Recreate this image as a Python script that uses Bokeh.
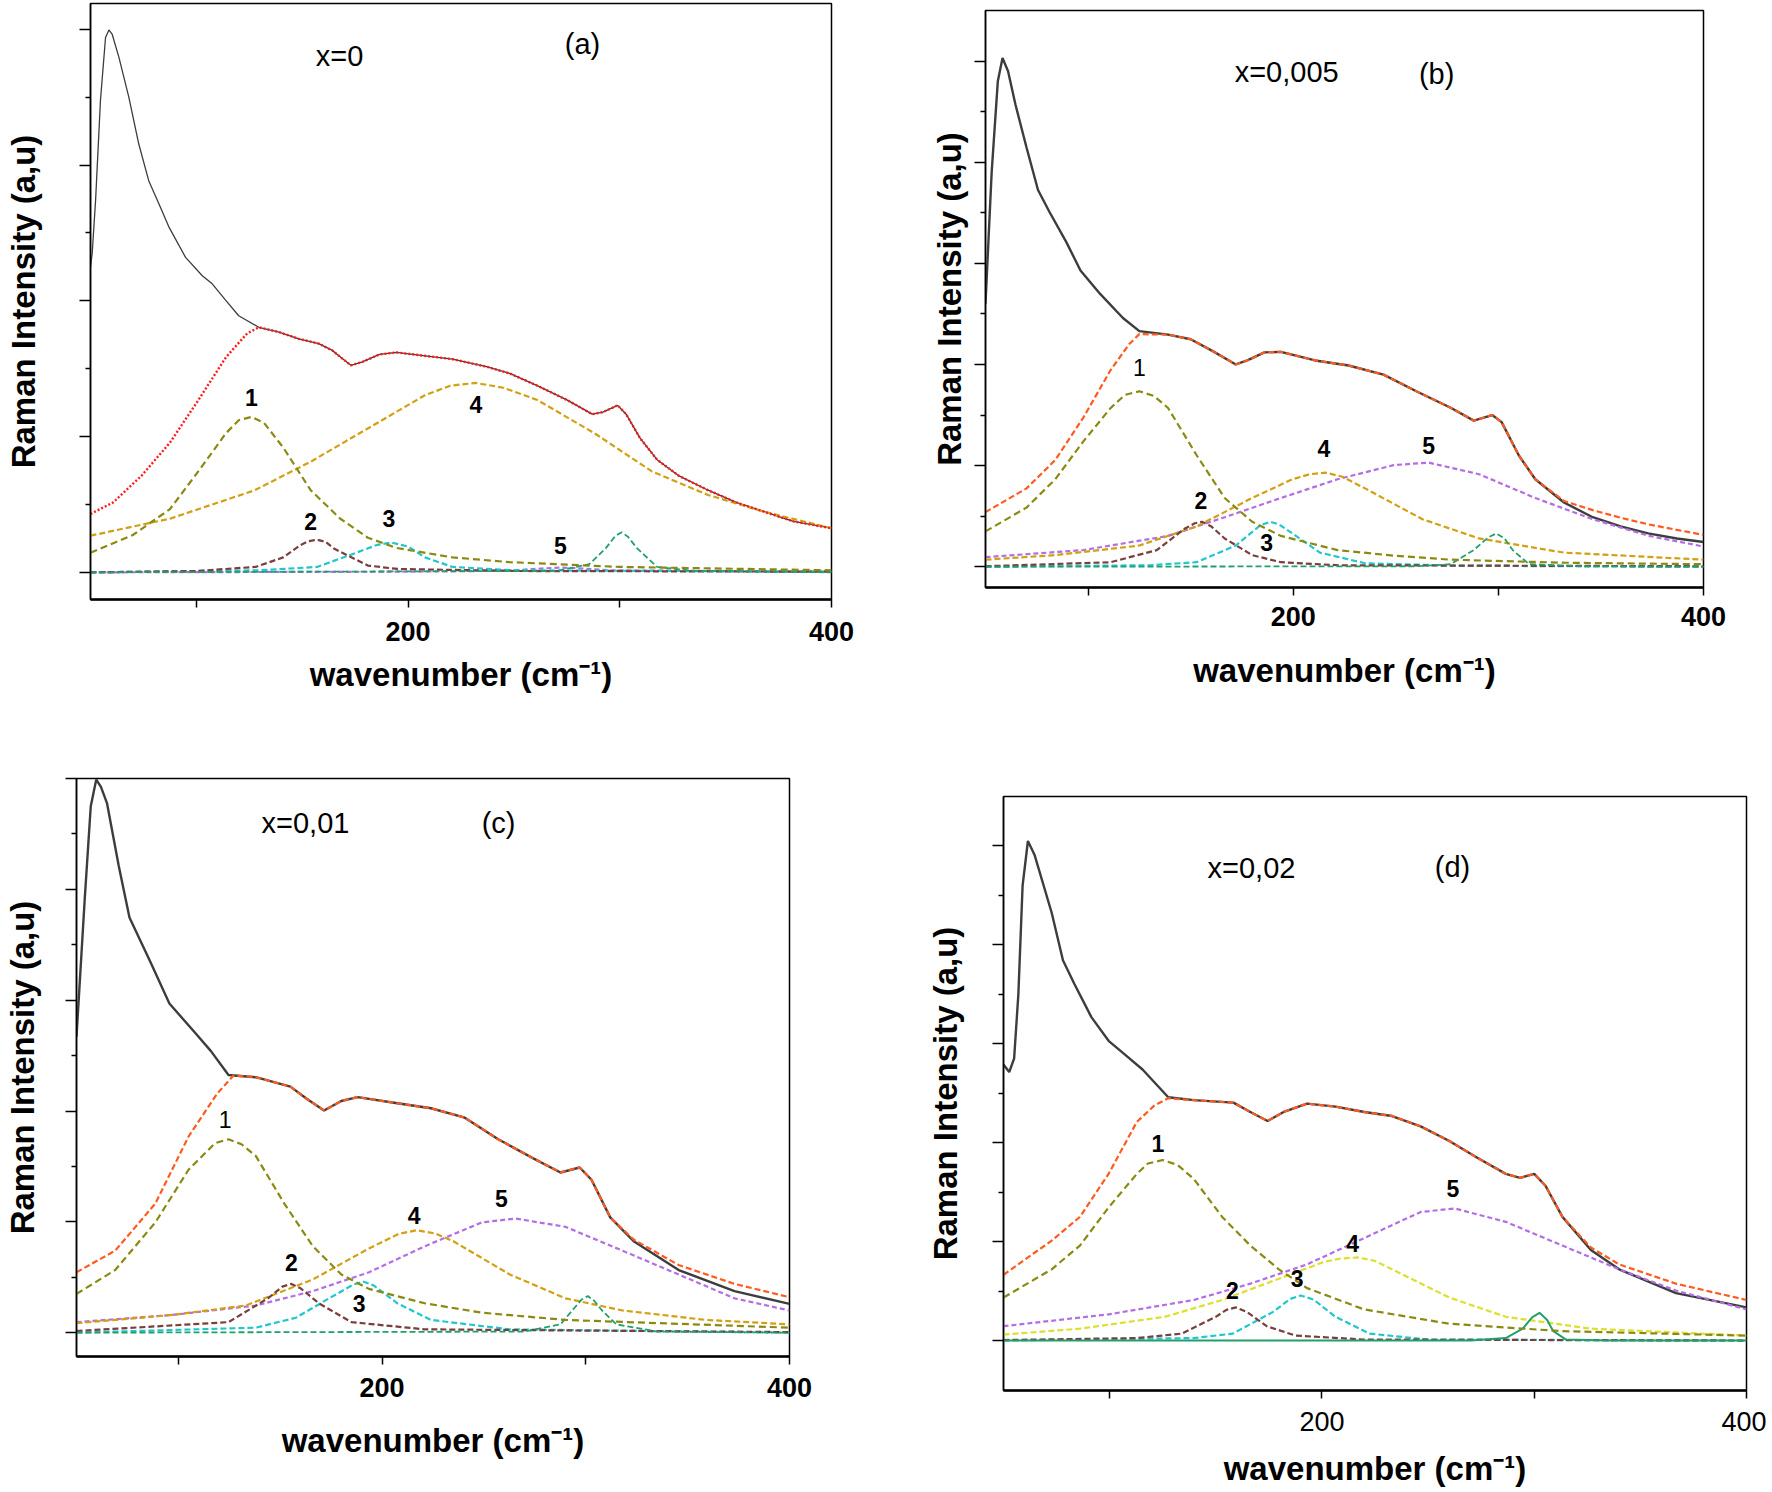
from bokeh.plotting import figure
from bokeh.layouts import row, column
from bokeh.models import FixedTicker, Range1d, Label
from bokeh.embed import file_html
from bokeh.resources import INLINE

FONT = "Liberation Sans"

# ---------------- panel (a) x=0 ----------------
a_exp_x = [50, 50.8, 52.4, 54.7, 57.1, 58.7, 60.2, 63.4, 68.1, 72.8, 77.5, 82.3, 87, 94.9, 102.8, 107.5, 113.8, 120, 129.5, 139, 148.4, 157.8, 164.2, 168.9, 173, 178.4, 186.5, 194.5, 208, 221, 237, 248, 261, 275, 287, 292, 299, 303, 309.5, 317.6, 328, 341.7, 355, 368.5, 382, 400]
a_exp_y = [4.5, 4.70, 5.48, 6.95, 7.88, 7.99, 7.93, 7.59, 7.0, 6.31, 5.77, 5.43, 5.09, 4.64, 4.37, 4.25, 4.01, 3.78, 3.61, 3.54, 3.44, 3.37, 3.27, 3.15, 3.05, 3.10, 3.21, 3.24, 3.19, 3.14, 3.03, 2.93, 2.75, 2.54, 2.33, 2.36, 2.46, 2.33, 1.98, 1.66, 1.42, 1.21, 1.03, 0.89, 0.75, 0.65]
a_fit_x = [50, 60.7, 74, 87.5, 101, 114, 124, 129.5, 139, 148.4, 157.8, 164.2, 168.9, 173, 178.4, 186.5, 194.5, 208, 221, 237, 248, 261, 275, 287, 292, 299, 303, 309.5, 317.6, 328, 341.7, 355, 368.5, 382, 400]
a_fit_y = [0.86, 1.03, 1.42, 1.91, 2.54, 3.17, 3.52, 3.61, 3.54, 3.44, 3.37, 3.27, 3.15, 3.05, 3.10, 3.21, 3.24, 3.19, 3.14, 3.03, 2.93, 2.75, 2.54, 2.33, 2.36, 2.46, 2.33, 1.98, 1.66, 1.42, 1.21, 1.03, 0.89, 0.75, 0.65]
a_p1_x = [50, 70, 87.5, 101, 114, 120, 126, 132, 141, 154, 168, 181, 194.5, 221, 248, 300, 400]
a_p1_y = [0.29, 0.55, 0.93, 1.49, 2.05, 2.24, 2.29, 2.2, 1.84, 1.21, 0.79, 0.51, 0.36, 0.22, 0.15, 0.08, 0.03]
a_p2_x = [50, 100, 128, 141, 149, 153, 157, 161, 165, 181, 195, 250, 400]
a_p2_y = [0.0, 0.02, 0.08, 0.22, 0.40, 0.46, 0.48, 0.45, 0.35, 0.10, 0.05, 0.02, 0.01]
a_p3_x = [50, 130, 157, 173, 185, 192, 200, 208, 221, 250, 400]
a_p3_y = [0.0, 0.03, 0.08, 0.26, 0.40, 0.44, 0.38, 0.22, 0.08, 0.03, 0.01]
a_p4_x = [50, 87.5, 127.6, 154, 181, 208, 220, 232, 245, 261, 288, 315, 341.7, 368.5, 400]
a_p4_y = [0.54, 0.79, 1.21, 1.63, 2.12, 2.61, 2.75, 2.79, 2.72, 2.54, 2.05, 1.49, 1.14, 0.89, 0.65]
a_p5_x = [50, 200, 250, 265, 272, 280, 295, 400]
a_p5_y = [0.0, 0.01, 0.03, 0.06, 0.07, 0.06, 0.03, 0.01]
a_p6_x = [50, 270, 285.6, 293.5, 298, 301, 304, 308, 317.6, 335, 400]
a_p6_y = [0.0, 0.02, 0.12, 0.36, 0.54, 0.59, 0.52, 0.36, 0.08, 0.02, 0.0]

# ---------------- panel (b) x=0,005 ----------------
b_exp_x = [50, 53, 56, 58.3, 61, 64.6, 70, 75.6, 81, 89.4, 96.3, 106, 117, 125, 139, 150, 161, 172, 177.6, 186, 194, 210.7, 227, 244, 260, 277, 288, 297, 301.6, 310, 318, 332, 346, 359.6, 373, 387, 400]
b_exp_y = [5.2, 7.8, 9.6, 10.06, 9.8, 9.14, 8.29, 7.45, 7.03, 6.42, 5.86, 5.39, 4.92, 4.66, 4.59, 4.50, 4.26, 4.00, 4.08, 4.24, 4.25, 4.08, 3.98, 3.80, 3.47, 3.14, 2.89, 3.0, 2.86, 2.20, 1.73, 1.27, 0.98, 0.80, 0.66, 0.56, 0.49]
b_fit_x = [50, 70, 84, 97.7, 111, 120, 125, 139, 150, 161, 172, 177.6, 186, 194, 210.7, 227, 244, 260, 277, 288, 297, 301.6, 310, 318, 332, 346, 359.6, 373, 387, 400]
b_fit_y = [1.08, 1.55, 2.11, 2.95, 3.89, 4.4, 4.6, 4.59, 4.50, 4.26, 4.00, 4.08, 4.24, 4.25, 4.08, 3.98, 3.80, 3.47, 3.14, 2.89, 3.0, 2.86, 2.20, 1.73, 1.30, 1.12, 0.97, 0.84, 0.73, 0.63]
b_p1_x = [50, 70, 84, 97.7, 111, 118, 125, 132, 139, 153, 166.6, 180, 194, 221.6, 249, 276.7, 332, 400]
b_p1_y = [0.70, 1.17, 1.73, 2.48, 3.14, 3.40, 3.47, 3.38, 3.14, 2.20, 1.36, 0.89, 0.61, 0.33, 0.22, 0.14, 0.08, 0.05]
b_p2_x = [50, 111, 133.5, 147, 152, 155.5, 160, 166.6, 180, 194, 222, 400]
b_p2_y = [0.01, 0.09, 0.33, 0.75, 0.86, 0.89, 0.80, 0.56, 0.23, 0.09, 0.03, 0.01]
b_p3_x = [50, 130, 152.8, 172, 184, 188.7, 193, 199.6, 213, 235, 280, 400]
b_p3_y = [0.0, 0.03, 0.09, 0.42, 0.82, 0.89, 0.84, 0.66, 0.28, 0.07, 0.02, 0.0]
b_p4_x = [50, 84, 125, 153, 180, 199.6, 208, 216, 224, 235, 263, 290.6, 332, 400]
b_p4_y = [0.14, 0.23, 0.42, 0.80, 1.36, 1.73, 1.83, 1.86, 1.78, 1.55, 0.94, 0.56, 0.28, 0.14]
b_p5_x = [50, 97.7, 139, 166.6, 194, 221.6, 249, 266, 290.6, 318, 346, 373.5, 400]
b_p5_y = [0.19, 0.33, 0.61, 0.98, 1.36, 1.73, 2.01, 2.06, 1.83, 1.36, 0.94, 0.61, 0.40]
b_p6_x = [50, 260, 276.7, 288, 295, 299, 303, 307, 315, 340, 400]
b_p6_y = [0.0, 0.01, 0.05, 0.33, 0.58, 0.66, 0.56, 0.33, 0.05, 0.01, 0.0]

# ---------------- panel (c) x=0,01 ----------------
c_exp_x = [50, 54, 57, 59.7, 62, 65, 70.7, 76, 86, 95.6, 108, 116, 124.6, 138, 155, 163, 171.5, 180, 188, 207.5, 224, 240.6, 257, 274, 287.6, 297, 302.8, 312, 323.5, 345.6, 373, 400]
c_exp_y = [5.34, 7.8, 9.5, 9.98, 9.85, 9.55, 8.43, 7.49, 6.71, 5.94, 5.42, 5.08, 4.65, 4.61, 4.44, 4.22, 4.01, 4.18, 4.25, 4.14, 4.05, 3.88, 3.49, 3.15, 2.89, 2.98, 2.76, 2.08, 1.65, 1.13, 0.75, 0.52]
c_fit_x = [50, 69, 88.7, 105, 119, 127, 138, 155, 163, 171.5, 180, 188, 207.5, 224, 240.6, 257, 274, 287.6, 297, 302.8, 312, 323.5, 345.6, 373, 400]
c_fit_y = [1.09, 1.48, 2.33, 3.54, 4.31, 4.64, 4.61, 4.44, 4.22, 4.01, 4.18, 4.25, 4.14, 4.05, 3.88, 3.49, 3.15, 2.89, 2.98, 2.76, 2.08, 1.68, 1.22, 0.88, 0.64]
c_p1_x = [50, 69, 88.7, 105, 118, 124.6, 131, 138, 152, 166, 180, 193.5, 221, 249, 290, 400]
c_p1_y = [0.70, 1.13, 1.99, 2.94, 3.42, 3.49, 3.40, 3.19, 2.33, 1.56, 1.05, 0.79, 0.53, 0.36, 0.23, 0.09]
c_p2_x = [50, 124.6, 144, 151, 155.5, 160, 169, 185, 221, 400]
c_p2_y = [0.03, 0.19, 0.62, 0.83, 0.88, 0.80, 0.53, 0.19, 0.06, 0.01]
c_p3_x = [50, 138, 157.7, 174, 186, 191, 196, 207.5, 224, 262.7, 400]
c_p3_y = [0.0, 0.09, 0.27, 0.62, 0.87, 0.92, 0.85, 0.53, 0.23, 0.06, 0.0]
c_p4_x = [50, 97, 133, 166, 193.6, 208, 217, 226, 235, 262.7, 290, 318, 359, 400]
c_p4_y = [0.17, 0.32, 0.49, 0.96, 1.52, 1.78, 1.85, 1.79, 1.65, 1.05, 0.62, 0.40, 0.23, 0.15]
c_p5_x = [50, 97, 138, 166, 193.6, 221, 249, 265.5, 290, 318, 345.6, 373, 400]
c_p5_y = [0.19, 0.32, 0.49, 0.75, 1.09, 1.56, 1.99, 2.06, 1.91, 1.48, 1.05, 0.62, 0.40]
c_p6_x = [50, 270, 287.6, 294.5, 298, 301, 304, 308, 315, 335, 400]
c_p6_y = [0.0, 0.02, 0.15, 0.45, 0.60, 0.66, 0.58, 0.40, 0.15, 0.02, 0.0]

# ---------------- panel (d) x=0,02 ----------------
d_exp_x = [50, 52.7, 55, 57, 59, 61.5, 64.7, 72.7, 78, 83.4, 91.4, 99.5, 107.5, 115.5, 127.6, 139.6, 158.3, 166.3, 174.4, 182.4, 193, 206.4, 220, 233, 246.5, 259.8, 273, 286.6, 293.3, 300, 305.3, 313.3, 326.7, 340, 366.8, 400]
d_exp_y = [5.58, 5.43, 5.7, 7.0, 9.2, 10.1, 9.81, 8.65, 7.69, 7.21, 6.54, 6.06, 5.77, 5.48, 4.92, 4.86, 4.81, 4.62, 4.44, 4.63, 4.79, 4.73, 4.62, 4.54, 4.33, 4.04, 3.70, 3.37, 3.29, 3.37, 3.13, 2.50, 1.83, 1.44, 0.96, 0.67]
d_fit_x = [50, 72.7, 86, 99.5, 112.8, 121, 127.6, 139.6, 158.3, 166.3, 174.4, 182.4, 193, 206.4, 220, 233, 246.5, 259.8, 273, 286.6, 293.3, 300, 305.3, 313.3, 326.7, 340, 366.8, 400]
d_fit_y = [1.33, 2.02, 2.5, 3.37, 4.42, 4.75, 4.9, 4.86, 4.81, 4.62, 4.44, 4.63, 4.79, 4.73, 4.62, 4.54, 4.33, 4.04, 3.70, 3.37, 3.29, 3.37, 3.13, 2.50, 1.88, 1.54, 1.15, 0.82]
d_p1_x = [50, 72.7, 86, 99.5, 112.8, 118, 125, 132, 139.6, 153, 166.3, 179.7, 193, 219.8, 260, 313, 400]
d_p1_y = [0.87, 1.44, 1.92, 2.69, 3.37, 3.58, 3.65, 3.55, 3.27, 2.5, 1.92, 1.44, 1.06, 0.63, 0.34, 0.19, 0.10]
d_p2_x = [50, 112.8, 134, 150, 155, 159.6, 165, 174, 187.6, 220, 400]
d_p2_y = [0.01, 0.05, 0.14, 0.48, 0.62, 0.67, 0.57, 0.29, 0.10, 0.02, 0.0]
d_p3_x = [50, 139.6, 158, 177, 185, 190, 196, 206.4, 222.5, 250, 400]
d_p3_y = [0.0, 0.05, 0.14, 0.58, 0.84, 0.91, 0.83, 0.48, 0.14, 0.02, 0.0]
d_p4_x = [50, 86, 126, 153, 179.7, 201, 209, 217, 225, 233, 260, 286.6, 326.7, 400]
d_p4_y = [0.12, 0.24, 0.48, 0.82, 1.25, 1.59, 1.66, 1.68, 1.61, 1.44, 0.87, 0.48, 0.24, 0.10]
d_p5_x = [50, 99.5, 139.6, 166.3, 193, 219.8, 246.5, 262.6, 286.6, 313.3, 340, 366.8, 400]
d_p5_y = [0.29, 0.53, 0.82, 1.15, 1.54, 2.07, 2.60, 2.67, 2.40, 1.92, 1.44, 1.01, 0.63]
d_p6_x = [50, 270, 286.6, 294.6, 299, 302.5, 306, 309, 315, 335, 400]
d_p6_y = [0.0, 0.0, 0.05, 0.24, 0.47, 0.56, 0.42, 0.19, 0.02, 0.0, 0.0]

# tick / label texts
x_major_ticks = [200, 400]
x_minor_ticks = [100, 300]
peak_names = ["1", "2", "3", "4", "5"]
titles = ["x=0", "x=0,005", "x=0,01", "x=0,02"]
tags = ["(a)", "(b)", "(c)", "(d)"]
x_label = "wavenumber (cm\u207b\u00b9)"
y_label = "Raman Intensity (a,u)"

# colours
C_EXP = "#3d3d3d"
C_P1 = "#8a8a12"
C_P2 = "#7a3e3e"
C_P3 = "#22c6cf"
C_P4 = "#d2a012"
C_P4D = "#dede2c"
C_P5 = "#b56de4"
C_P6 = "#22a06c"


def panel(geom, yr, ymaj, ymin, series, fit_style, exp_w, p4c, p6_solid,
          peak_pos, peak_bold, title_pos, tag_pos, title, tag, tick_bold,
          yl_stand, xl_stand, xt_stand):
    W, H, L, R, T, B = geom
    p = figure(width=W, height=H, x_range=Range1d(50, 400), y_range=Range1d(*yr),
               output_backend="svg", toolbar_location=None,
               min_border_left=L, min_border_right=R, min_border_top=T,
               min_border_bottom=B)
    p.grid.visible = False
    p.outline_line_color = "black"
    p.outline_line_width = 1.5
    p.background_fill_color = "white"
    p.border_fill_color = "white"

    xa = p.xaxis[0]
    xa.ticker = FixedTicker(ticks=x_major_ticks, minor_ticks=x_minor_ticks)
    xa.major_tick_in = 0
    xa.major_tick_out = 8
    xa.minor_tick_out = 8
    xa.minor_tick_in = 0
    xa.axis_line_width = 2.5
    xa.major_tick_line_width = 1.5
    xa.minor_tick_line_width = 1.5
    xa.major_label_text_font = FONT
    xa.major_label_text_font_size = "27px"
    xa.major_label_text_font_style = "bold" if tick_bold else "normal"
    xa.major_label_text_color = "black"
    xa.major_label_standoff = xt_stand
    xa.axis_label = x_label
    xa.axis_label_text_font = FONT
    xa.axis_label_text_font_size = "33px"
    xa.axis_label_text_font_style = "bold"
    xa.axis_label_text_color = "black"
    xa.axis_label_standoff = xl_stand

    ya = p.yaxis[0]
    ya.ticker = FixedTicker(ticks=ymaj, minor_ticks=ymin)
    ya.major_label_text_font_size = "1px"
    ya.major_label_text_color = None
    ya.major_label_standoff = 0
    ya.major_tick_in = 0
    ya.major_tick_out = 11
    ya.minor_tick_in = 0
    ya.minor_tick_out = 5
    ya.major_tick_line_width = 1.5
    ya.minor_tick_line_width = 1.5
    ya.axis_line_width = 1.5
    ya.axis_label = y_label
    ya.axis_label_text_font = FONT
    ya.axis_label_text_font_size = "33px"
    ya.axis_label_text_font_style = "bold"
    ya.axis_label_text_color = "black"
    ya.axis_label_standoff = yl_stand

    (ex, ey), (fx, fy), (p1x, p1y), (p2x, p2y), (p3x, p3y), (p4x, p4y), (p5x, p5y), (p6x, p6y) = series
    p.line(ex, ey, line_color=C_EXP, line_width=exp_w)
    p.line(p5x, p5y, line_color=C_P5, line_width=2.2, line_dash="5 3")
    p.line(p4x, p4y, line_color=p4c, line_width=2.2, line_dash="6 3")
    p.line(p3x, p3y, line_color=C_P3, line_width=2.2, line_dash="6 3")
    p.line(p2x, p2y, line_color=C_P2, line_width=2.2, line_dash="6 3")
    if p6_solid:
        p.line(p6x, p6y, line_color=C_P6, line_width=2)
    else:
        p.line(p6x, p6y, line_color=C_P6, line_width=1.8, line_dash="6 3")
    p.line(p1x, p1y, line_color=C_P1, line_width=2.2, line_dash="7 4")
    fc, fd, fw = fit_style
    p.line(fx, fy, line_color=fc, line_width=fw, line_dash=fd)

    for name, (px, py), bold in zip(peak_names, peak_pos, peak_bold):
        p.add_layout(Label(x=px, y=py, text=name, text_font=FONT, text_font_size="23px",
                           text_font_style="bold" if bold else "normal",
                           text_align="center", text_baseline="middle", text_color="black"))
    p.add_layout(Label(x=title_pos[0], y=title_pos[1], text=title, text_font=FONT,
                       text_font_size="29px", text_align="center", text_baseline="middle",
                       text_color="black"))
    p.add_layout(Label(x=tag_pos[0], y=tag_pos[1], text=tag, text_font=FONT,
                       text_font_size="29px", text_align="center", text_baseline="middle",
                       text_color="black"))
    return p


even10 = [0, 2, 4, 6, 8, 10]
odd10 = [1, 3, 5, 7, 9]

pa = panel((856, 699, 90, 25, 3, 100), (-0.40, 8.38), [0, 2, 4, 6, 8], [1, 3, 5, 7],
           [(a_exp_x, a_exp_y), (a_fit_x, a_fit_y), (a_p1_x, a_p1_y), (a_p2_x, a_p2_y),
            (a_p3_x, a_p3_y), (a_p4_x, a_p4_y), (a_p5_x, a_p5_y), (a_p6_x, a_p6_y)],
           ("#ff1a1a", "2 2", 2.4), 1.3, C_P4, False,
           [(126, 2.57), (154, 0.75), (191, 0.79), (232, 2.47), (272, 0.40)],
           [True] * 5, (167.6, 7.61), (282.4, 7.79), titles[0], tags[0], True,
           38, 12, 14)

pc = panel((856, 787, 73, 67, 79, 130), (-0.43, 10.0), even10, odd10,
           [(c_exp_x, c_exp_y), (c_fit_x, c_fit_y), (c_p1_x, c_p1_y), (c_p2_x, c_p2_y),
            (c_p3_x, c_p3_y), (c_p4_x, c_p4_y), (c_p5_x, c_p5_y), (c_p6_x, c_p6_y)],
           ("#ff5a1f", "6 3", 2.2), 2.4, C_P4, False,
           [(123, 3.84), (155.5, 1.26), (188.8, 0.53), (215.7, 2.12), (258.6, 2.42)],
           [False, True, True, True, True], (162.4, 9.2), (257.2, 9.19), titles[2], tags[2], True,
           25, 22, 13)

pb = panel((910, 691, 129, 63, 10, 102), (-0.41, 11.0), even10, odd10,
           [(b_exp_x, b_exp_y), (b_fit_x, b_fit_y), (b_p1_x, b_p1_y), (b_p2_x, b_p2_y),
            (b_p3_x, b_p3_y), (b_p4_x, b_p4_y), (b_p5_x, b_p5_y), (b_p6_x, b_p6_y)],
           ("#ff5a1f", "6 3", 2.2), 2.4, C_P4, False,
           [(125, 3.94), (155, 1.31), (187, 0.47), (215, 2.34), (266, 2.39)],
           [False, True, True, True, True], (196.8, 9.78), (269.9, 9.74), titles[1], tags[1], True,
           7, 23, 11)

pd_ = panel((910, 798, 147, 20, 105, 97), (-1.01, 11.0), even10, odd10,
            [(d_exp_x, d_exp_y), (d_fit_x, d_fit_y), (d_p1_x, d_p1_y), (d_p2_x, d_p2_y),
             (d_p3_x, d_p3_y), (d_p4_x, d_p4_y), (d_p5_x, d_p5_y), (d_p6_x, d_p6_y)],
            ("#ff5a1f", "6 3", 2.2), 2.4, C_P4D, True,
            [(122.7, 3.99), (157.8, 1.01), (188.3, 1.25), (214.5, 1.97), (261.7, 3.08)],
            [True] * 5, (166.8, 9.56), (261.5, 9.58), titles[3], tags[3], False,
            29, 16, 13)

layout = row(column(row(pa), row(pc)), column(row(pb), row(pd_)))
open("out.html", "w").write(file_html(layout, INLINE))
